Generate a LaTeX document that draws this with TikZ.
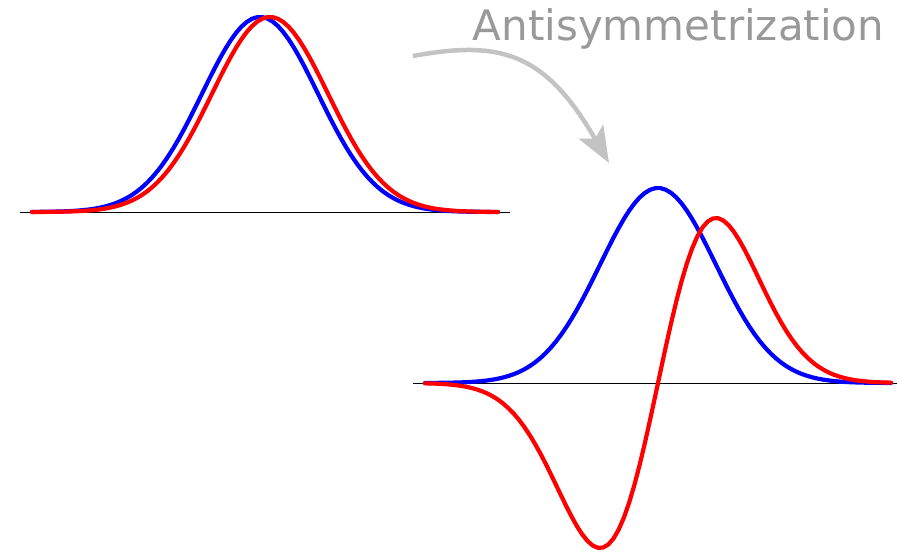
\documentclass[tikz,border=0pt]{standalone}
\usepackage{fontspec}
\newfontfamily\labelfont{DejaVu Sans}
\usetikzlibrary{arrows.meta}
\definecolor{textgray}{RGB}{153,153,153}
\definecolor{arrowgray}{RGB}{195,195,195}
\definecolor{pblue}{RGB}{0,0,255}
\definecolor{pred}{RGB}{255,0,0}
\begin{document}
\begin{tikzpicture}[x=1pt,y=-1pt,
  axisline/.style={black, line width=0.9pt},
  curve/.style={line width=4.2pt, line cap=round, line join=round, samples=90},
  bluecurve/.style={curve, draw=pblue},
  redcurve/.style={curve, draw=pred},
  bigarrow/.style={draw=arrowgray, line width=4.5pt, -{Stealth[length=36pt,width=28pt,inset=8pt]}},
  title/.style={anchor=base west, inner sep=0pt, text=textgray, font=\labelfont\fontsize{42}{42}\selectfont}]
\useasboundingbox (0,0) rectangle (897,553);
% upper panel
\draw[axisline] (20,212) -- (510,212);
\draw[bluecurve, domain=32:498] plot (\x, {212-195*exp(-0.5*pow((\x-260)/58,2))});
\draw[redcurve, domain=32:498] plot (\x, {212-195*exp(-0.5*pow((\x-270)/58,2))});
% lower panel
\draw[axisline] (413,383) -- (897,383);
\draw[bluecurve, domain=425:891] plot (\x, {383-195*exp(-0.5*pow((\x-658)/58,2))});
\draw[redcurve, domain=425:891] plot (\x, {383-272*((\x-658)/58)*exp(-0.5*pow((\x-658)/58,2))});
% title and arrow
\node[title] (label) at (472.5,40.7) {Antisymmetrization};
\coordinate (arrowstart) at (413,56);
\coordinate (arrowtip) at (609,163);
\draw[bigarrow] (arrowstart) .. controls (500,40) and (545,52) .. (arrowtip);
\end{tikzpicture}
\end{document}
